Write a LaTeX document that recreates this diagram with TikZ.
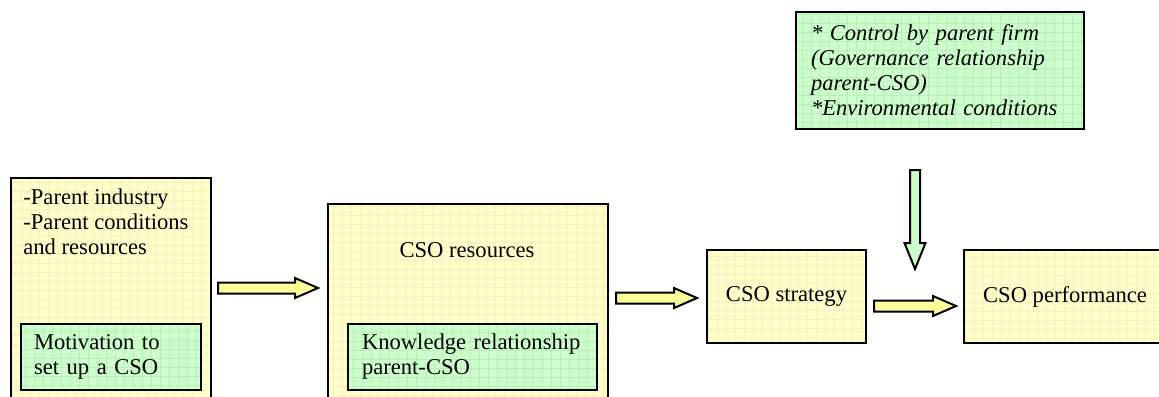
\documentclass[tikz,border=0pt]{standalone}
\usepackage{fontspec}
\setmainfont{Liberation Serif}
\usetikzlibrary{calc}

\definecolor{boxyellow}{HTML}{FFFFCC}
\definecolor{gridyellow}{HTML}{F5F1B8}
\definecolor{boxgreen}{HTML}{CCFFCC}
\definecolor{gridgreen}{HTML}{BCEEBC}
\definecolor{arrowyellow}{HTML}{FFFF99}
\definecolor{arrowgreen}{HTML}{CCFFCC}

\newcommand{\diagfont}{\fontsize{11.3}{12.5}\selectfont}

% block arrows, right and down
\newcommand{\hblock}[3][arrowyellow]{%
  \draw[blockline, fill=#1] let \p1=(#2), \p2=(#3) in
    (\x1,\y1-2.75pt) -- (\x2-11.5pt,\y1-2.75pt) -- (\x2-11.5pt,\y1-5pt) -- (\x2,\y1)
    -- (\x2-11.5pt,\y1+5pt) -- (\x2-11.5pt,\y1+2.75pt) -- (\x1,\y1+2.75pt) -- cycle;}
\newcommand{\vblock}[3][arrowgreen]{%
  \draw[blockline, fill=#1] let \p1=(#2), \p2=(#3) in
    (\x1-2.5pt,\y1) -- (\x1-2.5pt,\y2+13pt) -- (\x1-5.25pt,\y2+13pt) -- (\x1,\y2)
    -- (\x1+5.25pt,\y2+13pt) -- (\x1+2.5pt,\y2+13pt) -- (\x1+2.5pt,\y1) -- cycle;}

\tikzset{
  every node/.style={font=\diagfont},
  gridfill/.style={path picture={\draw[#1, line width=0.25pt]
    (path picture bounding box.south west) grid[step=4.5pt] (path picture bounding box.north east);}},
  yellowbox/.style={draw, line width=1pt, fill=boxyellow, gridfill=gridyellow,
    anchor=north west, inner sep=0pt},
  greenbox/.style={draw, line width=1pt, fill=boxgreen, gridfill=gridgreen,
    anchor=north west, inner ysep=0pt, align=left},
  blockline/.style={draw, line width=1pt, line join=miter},
}

\begin{document}
\begin{tikzpicture}[x=0.5pt, y=-0.5pt]
  \useasboundingbox (0,0) rectangle (1159,396);
  \clip (0,0) rectangle (1159,396);

  % boxes
  \node[yellowbox, minimum width=100pt, minimum height=130pt] (parent) at (10,177) {};
  \node[anchor=north west, align=left, inner sep=0pt] (parenttxt) at (23,188)
    {-Parent industry\\-Parent conditions\\and resources};
  \node[greenbox, minimum width=90pt, minimum height=33pt, text width=77pt, inner xsep=6.5pt]
    (motive) at (20,323) {Motivation to\\set up a CSO};

  \node[yellowbox, minimum width=140pt, minimum height=110pt] (resources) at (327,203) {};
  \node (restxt) at (467,250) {CSO resources};
  \node[greenbox, minimum width=124.5pt, minimum height=33pt, text width=110.5pt, inner xsep=7pt]
    (knowledge) at (347,323) {Knowledge relationship\\parent-CSO};

  \node[yellowbox, minimum width=79.5pt, minimum height=46.5pt] (strategy) at (706,249) {CSO strategy};
  \node[yellowbox, minimum width=101pt, minimum height=46.5pt] (performance) at (963,249) {CSO performance};

  \node[greenbox, minimum width=144pt, minimum height=58.5pt, text width=129pt, inner xsep=7.5pt,
    font=\diagfont\itshape] (control) at (795,11)
    {* Control by parent firm\\(Governance relationship\\parent-CSO)\\{}*Environmental conditions};

  % arrows
  \coordinate (a1s) at (218,288);
  \coordinate (a1e) at (318,288);
  \coordinate (a2s) at (616,298);
  \coordinate (a2e) at (697,298);
  \coordinate (a3s) at (874,306);
  \coordinate (a3e) at (956,306);
  \coordinate (a4s) at (915,170);
  \coordinate (a4e) at (915,269);
  \hblock{a1s}{a1e}
  \hblock{a2s}{a2e}
  \hblock{a3s}{a3e}
  \vblock{a4s}{a4e}
\end{tikzpicture}
\end{document}
